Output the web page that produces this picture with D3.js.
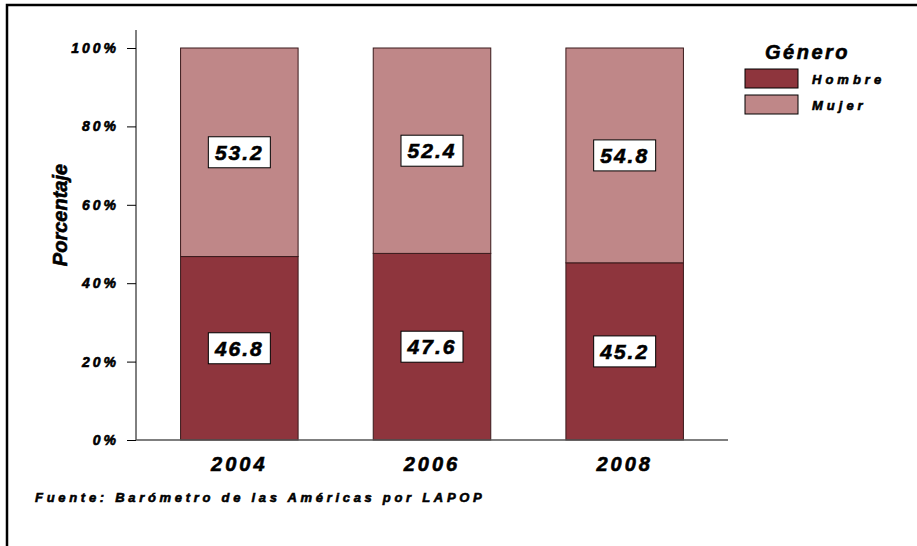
<!DOCTYPE html>
<html>
<head>
<meta charset="utf-8">
<script src="https://cdn.jsdelivr.net/npm/d3@7"></script>
<style>
  body { margin: 0; background: #fff; }
  text { font-family: "Liberation Sans", Arial, sans-serif; font-weight: bold; font-style: italic; fill: #000; stroke: #000; stroke-width: 0.6px; }
</style>
</head>
<body>
<div id="chart"></div>
<script>
const years = ["2004", "2006", "2008"];
const hombre = [46.8, 47.6, 45.2];
const mujer = [53.2, 52.4, 54.8];
const series = ["Hombre", "Mujer"];
const colors = ["#8e353d", "#bf8788"];
const yTicks = [0, 20, 40, 60, 80, 100];

const width = 917, height = 546;

const svg = d3.select("#chart").append("svg")
    .attr("width", width)
    .attr("height", height);

// outer frame (top and left only visible)
svg.append("path")
    .attr("d", `M7,${height} V5 H${width}`)
    .attr("fill", "none")
    .attr("stroke", "#000")
    .attr("stroke-width", 2.5);

const x = d3.scaleBand()
    .domain(years)
    .range([143, 721])
    .paddingInner(0.39)
    .paddingOuter(0.195);

const y = d3.scaleLinear()
    .domain([0, 100])
    .range([440, 48]);

const data = years.map((yr, i) => ({ year: yr, Hombre: hombre[i], Mujer: mujer[i] }));
const stacked = d3.stack().keys(series)(data);

// bars
stacked.forEach((layer, li) => {
    svg.append("g").selectAll("rect")
        .data(layer)
        .enter().append("rect")
        .attr("x", d => x(d.data.year))
        .attr("y", d => y(d[1]))
        .attr("width", x.bandwidth())
        .attr("height", d => y(d[0]) - y(d[1]))
        .attr("fill", colors[li])
        .attr("stroke", "#3a1a1c")
        .attr("stroke-width", 1);
});

// value labels
stacked.forEach(layer => {
    const g = svg.append("g").selectAll("g")
        .data(layer)
        .enter().append("g")
        .attr("transform", d => `translate(${x(d.data.year) + x.bandwidth() / 2}, ${(y(d[0]) + y(d[1])) / 2})`);
    g.append("rect")
        .attr("x", -31)
        .attr("y", -15.5)
        .attr("width", 62)
        .attr("height", 31)
        .attr("fill", "#fff")
        .attr("stroke", "#000")
        .attr("stroke-width", 1);
    g.append("text")
        .attr("text-anchor", "middle")
        .attr("dy", "0.36em")
        .style("font-size", "21px")
        .style("letter-spacing", "2px")
        .text(d => (d[1] - d[0]).toFixed(1));
});

// y axis
const yAxis = svg.append("g")
    .attr("transform", "translate(136,0)")
    .call(d3.axisLeft(y).tickValues(yTicks).tickFormat(d => d + "%").tickSize(9).tickSizeOuter(0));
yAxis.select(".domain").remove();
yAxis.append("line")
    .attr("x1", 0).attr("x2", 0)
    .attr("y1", 30).attr("y2", 440)
    .attr("stroke", "#000");
yAxis.selectAll(".tick line").attr("stroke", "#000");
yAxis.selectAll(".tick text")
    .attr("x", -17)
    .style("font-size", "14px")
    .style("letter-spacing", "3px")
    .style("font-family", "'Liberation Sans', Arial, sans-serif");

// x axis line
svg.append("line")
    .attr("x1", 136).attr("x2", 728)
    .attr("y1", 440).attr("y2", 440)
    .attr("stroke", "#555")
    .attr("stroke-width", 1.5);

// x labels
svg.append("g").selectAll("text")
    .data(years)
    .enter().append("text")
    .attr("x", d => x(d) + x.bandwidth() / 2)
    .attr("y", 471)
    .attr("text-anchor", "middle")
    .style("font-size", "20px")
    .style("letter-spacing", "3px")
    .text(d => d);

// y title
svg.append("text")
    .attr("transform", "translate(67,215) rotate(-90)")
    .attr("text-anchor", "middle")
    .style("font-size", "20px")
    .text("Porcentaje");

// legend
const legend = svg.append("g").attr("transform", "translate(745,0)");
legend.append("text")
    .attr("x", 20)
    .attr("y", 59)
    .style("font-size", "20px")
    .style("letter-spacing", "2.5px")
    .text("Género");
const items = legend.selectAll(".item")
    .data(series)
    .enter().append("g")
    .attr("transform", (d, i) => `translate(0, ${69 + i * 26})`);
items.append("rect")
    .attr("width", 53)
    .attr("height", 19)
    .attr("fill", (d, i) => colors[i])
    .attr("stroke", "#000")
    .attr("stroke-width", 1);
items.append("text")
    .attr("x", 67)
    .attr("y", 15)
    .style("font-size", "13px")
    .style("letter-spacing", "4px")
    .text(d => d);

// source
svg.append("text")
    .attr("x", 35)
    .attr("y", 502)
    .style("font-size", "13px")
    .style("letter-spacing", "3.7px")
    .text("Fuente: Barómetro de las Américas por LAPOP");
</script>
</body>
</html>
